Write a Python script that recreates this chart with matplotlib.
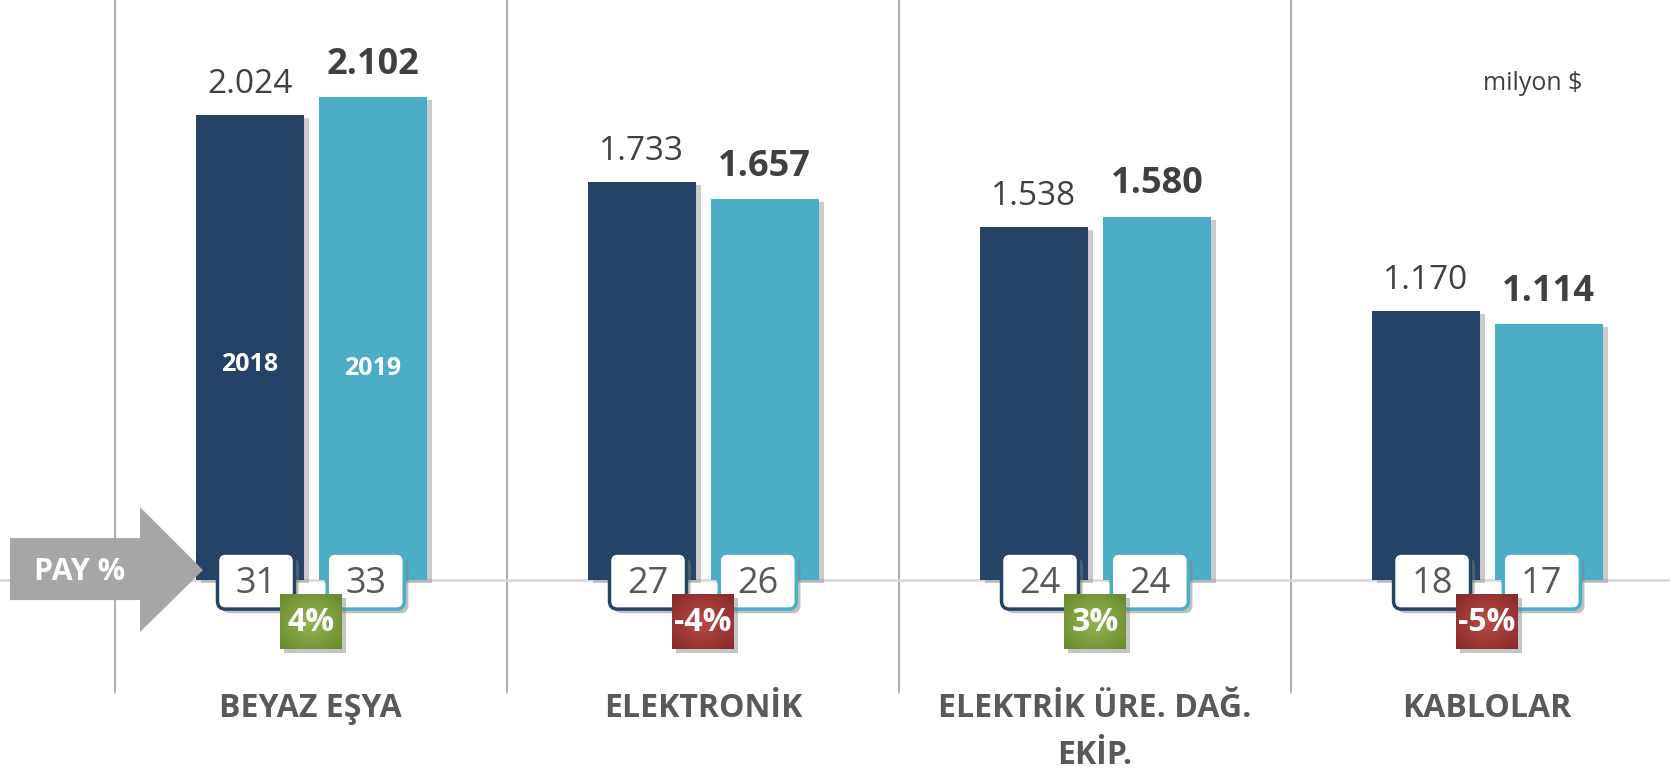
import numpy as np
import matplotlib
matplotlib.use("Agg")
import matplotlib.pyplot as plt
import matplotlib.patheffects as pe
from matplotlib.patches import FancyBboxPatch, Polygon, Rectangle

# ============================================
# DATA
# ============================================
kategoriler = ["BEYAZ EŞYA", "ELEKTRONİK", "ELEKTRİK ÜRE. DAĞ.\nEKİP.", "KABLOLAR"]
deger_2018 = [2024, 1733, 1538, 1170]
deger_2019 = [2102, 1657, 1580, 1114]
pay_2018 = [31, 27, 24, 18]
pay_2019 = [33, 26, 24, 17]
degisim = [4, -4, 3, -5]
yillar = ["2018", "2019"]

# ============================================
# STYLE
# ============================================
plt.rcParams['font.family'] = ['Open Sans', 'DejaVu Sans']

KOYU = '#264266'
ACIK = '#4BADC6'
YESIL = ('#94B650', '#6B8A30')
KIRMIZI = ('#BA4B47', '#8A2B29')

XLIM = (-0.793, 3.467)
YLIM = (-831, 2525)
W_PX, H_PX = 1670, 771
px_x = (XLIM[1] - XLIM[0]) / W_PX    # data x per pixel
px_y = (YLIM[1] - YLIM[0]) / H_PX    # data y per pixel

fig = plt.figure(figsize=(16.7, 7.71), dpi=100)
ax = fig.add_axes([0, 0, 1, 1])
ax.axis('off')

x = np.arange(len(kategoriler))
genislik = 0.275
off1, off2 = -0.156, 0.158

# separators and baseline
for s in np.arange(-0.5, len(kategoriler) - 0.5, 1.0):
    ax.plot([s, s], [-488, YLIM[1]], color='#B0B0B0', lw=1.5, zorder=1)
ax.axhline(0, color='#D9D9D9', lw=2, zorder=1)

golge = [pe.SimplePatchShadow(offset=(4, -2), shadow_rgbFace='#7F7F7F', alpha=0.4), pe.Normal()]

b1 = ax.bar(x + off1, deger_2018, genislik, color=KOYU, zorder=2)
b2 = ax.bar(x + off2, deger_2019, genislik, color=ACIK, zorder=2)
for b in list(b1) + list(b2):
    b.set_path_effects(golge)

# value labels
for i in range(len(kategoriler)):
    ax.annotate(f"{deger_2018[i]:,}".replace(",", "."), (x[i] + off1, deger_2018[i]),
                xytext=(0, 16), textcoords='offset points', ha='center', va='baseline',
                fontsize=24, color='#404040', zorder=5)
    ax.annotate(f"{deger_2019[i]:,}".replace(",", "."), (x[i] + off2, deger_2019[i]),
                xytext=(0, 17), textcoords='offset points', ha='center', va='baseline',
                fontsize=26, fontweight='bold', color='#404040', zorder=5)

# year labels inside first group
ax.text(x[0] + off1, (580 - 364) * px_y, yillar[0], ha='center', va='center',
        fontsize=18, fontweight='bold', color='white', zorder=5)
ax.text(x[0] + off2, (580 - 368) * px_y, yillar[1], ha='center', va='center',
        fontsize=18, fontweight='bold', color='white', zorder=5)

# share boxes
kutu_w, kutu_h = 77 * px_x, 56 * px_y
kutu_y = -1 * px_y
aspect = px_y / px_x
for i in range(len(kategoriler)):
    for cx, val, col in [(x[i] + off1 + 0.016, pay_2018[i], KOYU),
                         (x[i] + off2 - 0.018, pay_2019[i], ACIK)]:
        kutu = FancyBboxPatch((cx - kutu_w / 2, kutu_y - kutu_h / 2), kutu_w, kutu_h,
                              boxstyle=f"round,pad=0,rounding_size={8 * px_x}",
                              mutation_aspect=aspect, facecolor='white',
                              edgecolor=col, lw=2.5, zorder=4)
        kutu.set_path_effects([pe.SimplePatchShadow(offset=(3, -3), shadow_rgbFace='#808080', alpha=0.5),
                               pe.Normal()])
        ax.add_patch(kutu)
        ax.text(cx, kutu_y - 3 * px_y, str(val), ha='center', va='center',
                fontsize=26, color='#595959', zorder=5)

# change badges with radial gradient
rozet_w, rozet_h = 62 * px_x, 55 * px_y
rozet_y = -(621 - 580) * px_y
yy, xx = np.mgrid[-1:1:60j, -1:1:60j]
r = np.clip(np.sqrt(xx ** 2 + yy ** 2) / 1.35, 0, 1)[..., None]
for i in range(len(kategoriler)):
    c0, c1 = YESIL if degisim[i] > 0 else KIRMIZI
    a = np.array(matplotlib.colors.to_rgb(c0))
    b = np.array(matplotlib.colors.to_rgb(c1))
    img = a * (1 - r) + b * r
    x0, y0 = x[i] - rozet_w / 2, rozet_y - rozet_h / 2
    ax.add_patch(Rectangle((x0 + 4 * px_x, y0 - 4 * px_y), rozet_w, rozet_h,
                           facecolor='#808080', alpha=0.45, lw=0, zorder=5))
    ax.imshow(img, extent=(x0, x0 + rozet_w, y0, y0 + rozet_h), aspect='auto',
              zorder=6, interpolation='bilinear')
    ax.text(x[i], rozet_y - 1 * px_y, f"{degisim[i]}%", ha='center', va='center',
            fontsize=23, fontweight='bold', color='white', zorder=7)

# PAY % arrow
def px2d(px, py):
    return (XLIM[0] + px * px_x, (580 - py) * px_y)

ok = Polygon([px2d(10, 538), px2d(140, 538), px2d(140, 507), px2d(203, 570),
              px2d(140, 632), px2d(140, 600), px2d(10, 600)],
             closed=True, facecolor='#A6A6A6', edgecolor='none', zorder=3)
ax.add_patch(ok)
tx, ty = px2d(80, 572)
ax.text(tx, ty, "PAY %", ha='center', va='center', fontsize=22,
        fontweight='bold', color='white', zorder=4)

# category labels
for i, k in enumerate(kategoriler):
    ax.text(x[i], (580 - 692) * px_y, k, ha='center', va='top', fontsize=23,
            fontweight='bold', color='#595959', linespacing=1.55)

mx, my = px2d(1533, 83)
ax.text(mx, my, "milyon $", ha='center', va='center', fontsize=18, color='#404040')

ax.set_xlim(XLIM)
ax.set_ylim(YLIM)

plt.savefig("out.png", dpi=100)
